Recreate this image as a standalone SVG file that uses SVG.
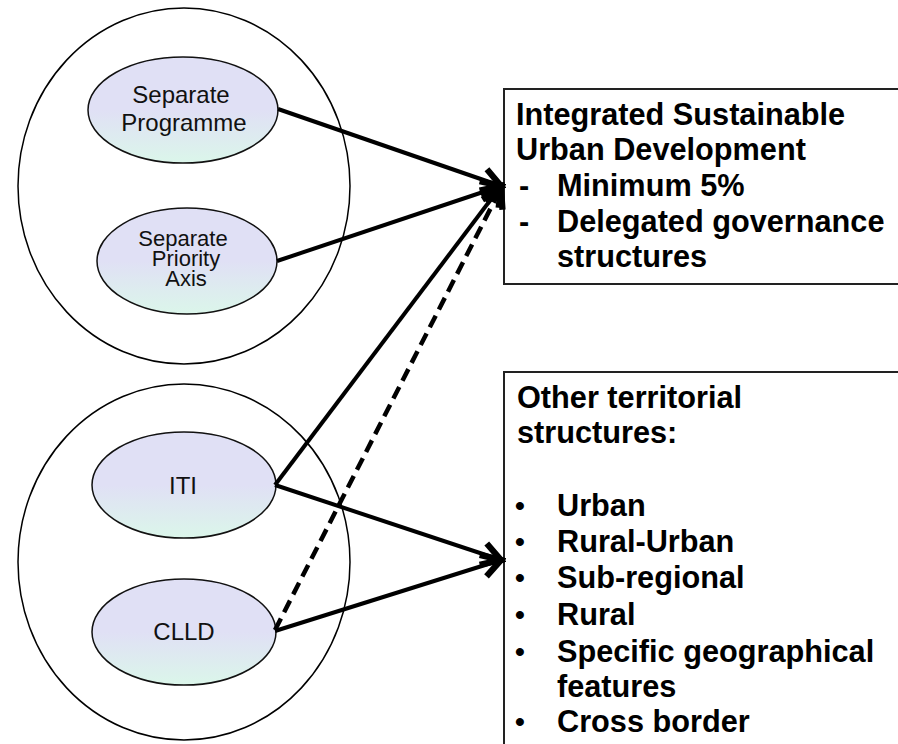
<svg xmlns="http://www.w3.org/2000/svg" width="898" height="744" viewBox="0 0 898 744">
<style>
.outer{fill:none;stroke:#000;stroke-width:1.5}
.node{stroke:#111;stroke-width:1.5;fill:url(#g)}
.nt{font-family:"Liberation Sans",Arial,sans-serif;font-size:24px;fill:#111;text-anchor:middle}
.st{font-size:22px}
.box{fill:#fff;stroke:#222;stroke-width:2}
.bt{font-family:"Liberation Sans",Arial,sans-serif;font-size:30.7px;font-weight:bold;fill:#000}
.bl{font-family:"Liberation Sans",Arial,sans-serif;font-size:28px;font-weight:bold;fill:#000}
.c{stroke:#000;stroke-width:4;fill:none}
.d{stroke:#000;stroke-width:4.5;fill:none;stroke-dasharray:13 7}
</style>
<defs>
<linearGradient id="g" x1="0" y1="0" x2="0" y2="1">
<stop offset="0" stop-color="#e0e0f5"/>
<stop offset="0.5" stop-color="#e0e0f5"/>
<stop offset="1" stop-color="#dbf6ea"/>
</linearGradient>
<marker id="a" markerUnits="userSpaceOnUse" markerWidth="30" markerHeight="30" viewBox="-20 -12 24 24" refX="0" refY="0" orient="auto">
<path d="M -15 -9 L 0 0 L -15 9" fill="none" stroke="#000" stroke-width="5" stroke-linejoin="miter"/>
</marker>
</defs>
<rect width="898" height="744" fill="#fff"/>
<g id="group-top"><ellipse class="outer" cx="184" cy="186" rx="166" ry="178"/></g>
<g id="group-bottom"><ellipse class="outer" cx="184" cy="562" rx="166" ry="178"/></g>
<g id="separate-programme">
<ellipse class="node" cx="183" cy="110" rx="95" ry="53"/>
<text class="nt" x="181" y="103">Separate</text>
<text class="nt" x="184" y="131">Programme</text>
</g>
<g id="separate-priority-axis">
<ellipse class="node" cx="187" cy="261" rx="90" ry="53"/>
<text class="nt st" x="183" y="246">Separate</text>
<text class="nt st" x="186" y="266">Priority</text>
<text class="nt st" x="186" y="286">Axis</text>
</g>
<g id="iti">
<ellipse class="node" cx="184" cy="485" rx="92" ry="53"/>
<text class="nt" x="183" y="494">ITI</text>
</g>
<g id="clld">
<ellipse class="node" cx="184" cy="632" rx="92" ry="53"/>
<text class="nt" x="184" y="640">CLLD</text>
</g>
<g id="isud">
<rect class="box" x="504" y="89" width="420" height="195"/>
<text class="bt" x="516" y="125">Integrated Sustainable</text>
<text class="bt" x="516" y="160">Urban Development</text>
<text class="bt" x="519" y="196">-</text>
<text class="bt" x="557" y="196">Minimum 5%</text>
<text class="bt" x="519" y="232">-</text>
<text class="bt" x="557" y="232">Delegated governance</text>
<text class="bt" x="557" y="267">structures</text>
</g>
<g id="other">
<rect class="box" x="504" y="372" width="420" height="400"/>
<text class="bt" x="517" y="408">Other territorial</text>
<text class="bt" x="517" y="443">structures:</text>
<text class="bl" x="515" y="515">•</text><text class="bt" x="557" y="516">Urban</text>
<text class="bl" x="515" y="551">•</text><text class="bt" x="557" y="552">Rural-Urban</text>
<text class="bl" x="515" y="587">•</text><text class="bt" x="557" y="588">Sub-regional</text>
<text class="bl" x="515" y="624">•</text><text class="bt" x="557" y="625">Rural</text>
<text class="bl" x="515" y="661">•</text><text class="bt" x="557" y="662">Specific geographical</text>
<text class="bt" x="557" y="697">features</text>
<text class="bl" x="515" y="731">•</text><text class="bt" x="557" y="732">Cross border</text>
</g>
<g id="connectors">
<line class="c" x1="278" y1="109" x2="501" y2="186" marker-end="url(#a)"/>
<line class="c" x1="277" y1="261" x2="501" y2="186" marker-end="url(#a)"/>
<line class="c" x1="275" y1="485" x2="501" y2="186" marker-end="url(#a)"/>
<line class="d" x1="275" y1="630" x2="501" y2="188" marker-end="url(#a)"/>
<line class="c" x1="275" y1="485" x2="501" y2="560" marker-end="url(#a)"/>
<line class="c" x1="275" y1="631" x2="501" y2="560" marker-end="url(#a)"/>
</g>
</svg>
